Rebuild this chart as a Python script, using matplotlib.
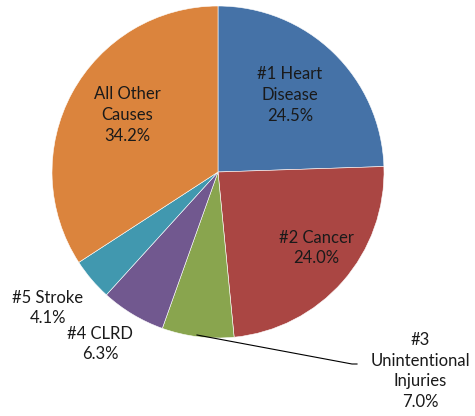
import matplotlib
matplotlib.use("Agg")
import matplotlib.pyplot as plt

labels = ["#1 Heart\nDisease", "#2 Cancer", "#3\nUnintentional\nInjuries", "#4 CLRD", "#5 Stroke", "All Other\nCauses"]
values = [24.5, 24.0, 7.0, 6.3, 4.1, 34.2]
colors = ["#4572A7", "#AA4643", "#89A54E", "#71588F", "#4198AF", "#DB843D"]

plt.rcParams['font.family'] = ['Lato', 'DejaVu Sans']

W, H = 475, 416
fig = plt.figure(figsize=(W / 100, H / 100), dpi=100)
cx, cy, r = 218, 172, 166
ax = fig.add_axes([(cx - r) / W, (H - cy - r) / H, 2 * r / W, 2 * r / H])
ax.pie(values, colors=colors, startangle=90, counterclock=False, radius=1,
       wedgeprops=dict(edgecolor="white", linewidth=0.4))
ax.set_xlim(-1, 1)
ax.set_ylim(-1, 1)
ax.set_aspect('equal')
ax.axis('off')


def px(x, y):
    return ((x - cx) / r, (cy - y) / r)


label_pos = [(290, 95), (316, 248), (420, 371), (100, 344), (48, 308), (127, 115)]
for lab, v, (x, y) in zip(labels, values, label_pos):
    tx, ty = px(x, y)
    ax.text(tx, ty, f"{lab}\n{v:.1f}%", ha='center', va='center', fontsize=12,
            color="#1a1a1a", linespacing=1.35, clip_on=False)

# leader line for injuries
pts = [px(197, 335), px(352, 364), px(357, 364)]
ax.plot([p[0] for p in pts], [p[1] for p in pts], color="black", lw=0.8, clip_on=False)

fig.savefig("out.png", dpi=100)
